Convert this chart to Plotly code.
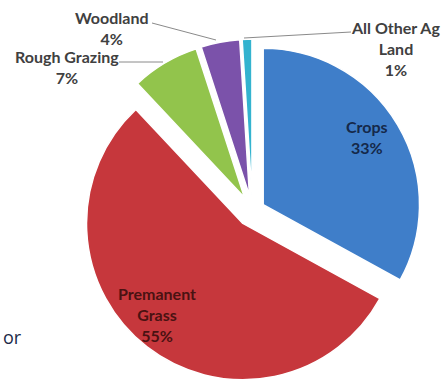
import plotly.graph_objects as go

# ---- data ----
labels = ["Crops", "Premanent Grass", "Rough Grazing", "Woodland", "All Other Ag Land"]
label_lines = [["Crops"], ["Premanent", "Grass"], ["Rough Grazing"], ["Woodland"], ["All Other Ag", "Land"]]
values = [33, 55, 7, 4, 1]
colors = ["#3f7ec9", "#c6373c", "#92c44c", "#7b52aa", "#33b3cf"]
pulls = [0.08, 0.10, 0.10, 0.10, 0.10]
text_colors = ["#15294a", "#4a1212", "#404040", "#404040", "#404040"]

W, H = 446, 383
total = sum(values)

def px(x, y):
    return x / W, 1 - y / H

fig = go.Figure(go.Pie(
    labels=labels, values=values, sort=False, direction="clockwise", rotation=0,
    pull=pulls,
    marker=dict(colors=colors, line=dict(color="white", width=1.5)),
    textinfo="none",
    domain=dict(x=[0.175, 0.957], y=[0.0, 0.898]),
    showlegend=False, hoverinfo="label+percent",
))

# label block centres (pixels) and leader lines
label_pos = [(367, 137), (157, 314), (67, 67), (112, 28.5), (395, 49)]
leaders = {2: ((119, 62), (163, 62)), 3: ((152, 23), (216, 40)), 4: ((351, 32), (244, 38))}

annotations = []
shapes = []
for i, (x, y) in enumerate(label_pos):
    ax, ay = px(x, y)
    pct = round(values[i] / total * 100)
    annotations.append(dict(
        x=ax, y=ay, xref="paper", yref="paper", xanchor="center", yanchor="middle",
        text="<br>".join(label_lines[i] + [f"{pct}%"]), showarrow=False,
        font=dict(family="Lato", size=16, color=text_colors[i], weight="bold"),
    ))
    if i in leaders:
        (x0, y0), (x1, y1) = leaders[i]
        p0, p1 = px(x0, y0), px(x1, y1)
        shapes.append(dict(type="line", xref="paper", yref="paper",
                           x0=p0[0], y0=p0[1], x1=p1[0], y1=p1[1],
                           line=dict(color="#8a8a8a", width=1)))

ox, oy = px(1, 337)
annotations.append(dict(x=ox, y=oy, xref="paper", yref="paper", xanchor="left", yanchor="middle",
                        text="or", showarrow=False,
                        font=dict(family="Open Sans", size=18, color="#1c2a48")))

fig.update_layout(
    width=W, height=H, margin=dict(l=0, r=0, t=0, b=0),
    paper_bgcolor="white", plot_bgcolor="white",
    annotations=annotations, shapes=shapes,
)

fig.write_html("out.html", config={"displayModeBar": False},
               post_script="document.body.style.margin='0';")
